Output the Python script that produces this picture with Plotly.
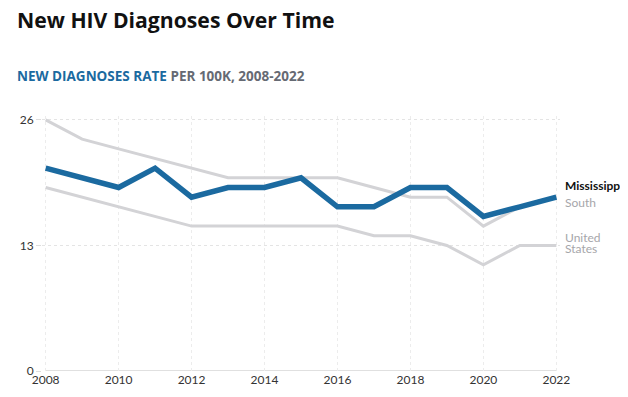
import plotly.graph_objects as go

years = list(range(2008, 2023))
mississippi = [21, 20, 19, 21, 18, 19, 19, 20, 17, 17, 19, 19, 16, 17, 18]
south = [26, 24, 23, 22, 21, 20, 20, 20, 20, 19, 18, 18, 15, 17, 18]
united_states = [19, 18, 17, 16, 15, 15, 15, 15, 15, 14, 14, 13, 11, 13, 13]
x_ticks = [2008, 2010, 2012, 2014, 2016, 2018, 2020, 2022]
y_ticks = [0, 13, 26]

FONT = "Lato"
TITLE_FONT = "Open Sans"
BLUE = "#1b6aa0"
GRAY_LINE = "#d3d3d6"
LABEL_GRAY = "#a6a6aa"

W, H = 628, 397
L, R, T, B = 29, 76, 108, 34

fig = go.Figure()
fig.add_trace(go.Scatter(x=years, y=united_states, mode="lines", name="United States",
                         line=dict(color=GRAY_LINE, width=3), hoverinfo="skip"))
fig.add_trace(go.Scatter(x=years, y=south, mode="lines", name="South",
                         line=dict(color=GRAY_LINE, width=3), hoverinfo="skip"))
fig.add_trace(go.Scatter(x=years, y=mississippi, mode="lines", name="Mississippi",
                         line=dict(color=BLUE, width=5.5), hoverinfo="skip"))

fig.add_shape(type="line", xref="x", yref="y", x0=years[0], x1=years[-1], y0=0, y1=0,
              line=dict(color="#e0e0e0", width=2), layer="below")

plot_w = W - L - R
plot_h = H - T - B


def px_x(px):
    return (px - L) / plot_w


def px_y(py):
    return (H - B - py) / plot_h


fig.update_layout(
    width=W, height=H,
    margin=dict(l=L, r=R, t=T, b=B),
    paper_bgcolor="white", plot_bgcolor="white",
    showlegend=False,
    font=dict(family=FONT, color="#333333", size=12),
    xaxis=dict(range=[2007.9, 2022.1], tickvals=x_ticks, ticktext=[str(v) for v in x_ticks],
               showgrid=True, gridcolor="#ececec", griddash="dot", gridwidth=1,
               zeroline=False, showline=False, ticks="", tickfont=dict(size=12, color="#333333")),
    yaxis=dict(range=[0, 26.4], tickvals=y_ticks, ticktext=[str(v) for v in y_ticks],
               showgrid=True, gridcolor="#e4e4e4", griddash="dot", gridwidth=1,
               zeroline=False, showline=False, ticks="outside", ticklen=5, tickcolor="#dddddd",
               tickfont=dict(size=12, color="#333333")),
    annotations=[
        dict(text="<b>New HIV Diagnoses Over Time</b>", xref="paper", yref="paper",
             x=px_x(2), y=px_y(11), xanchor="left", yanchor="middle", showarrow=False,
             font=dict(size=21.2, color="#111111", family=TITLE_FONT)),
        dict(text="<b><span style='color:%s'>NEW DIAGNOSES RATE</span> PER 100K, 2008-2022</b>" % BLUE,
             xref="paper", yref="paper", x=px_x(2), y=px_y(68), xanchor="left", yanchor="middle",
             showarrow=False, font=dict(size=13.5, color="#666a73", family=TITLE_FONT)),
        dict(text="<b>Mississippi</b>", xref="x", yref="y", x=2022, y=19.2, xanchor="left",
             yanchor="middle", xshift=7, showarrow=False, font=dict(size=12, color="#111111")),
        dict(text="South", xref="x", yref="y", x=2022, y=17.4, xanchor="left",
             yanchor="middle", xshift=7, showarrow=False, font=dict(size=12, color=LABEL_GRAY)),
        dict(text="United", xref="x", yref="y", x=2022, y=13.85, xanchor="left",
             yanchor="middle", xshift=7, showarrow=False, font=dict(size=12, color=LABEL_GRAY)),
        dict(text="States", xref="x", yref="y", x=2022, y=12.65, xanchor="left",
             yanchor="middle", xshift=7, showarrow=False, font=dict(size=12, color=LABEL_GRAY)),
    ],
)

fig.write_html("out.html")
